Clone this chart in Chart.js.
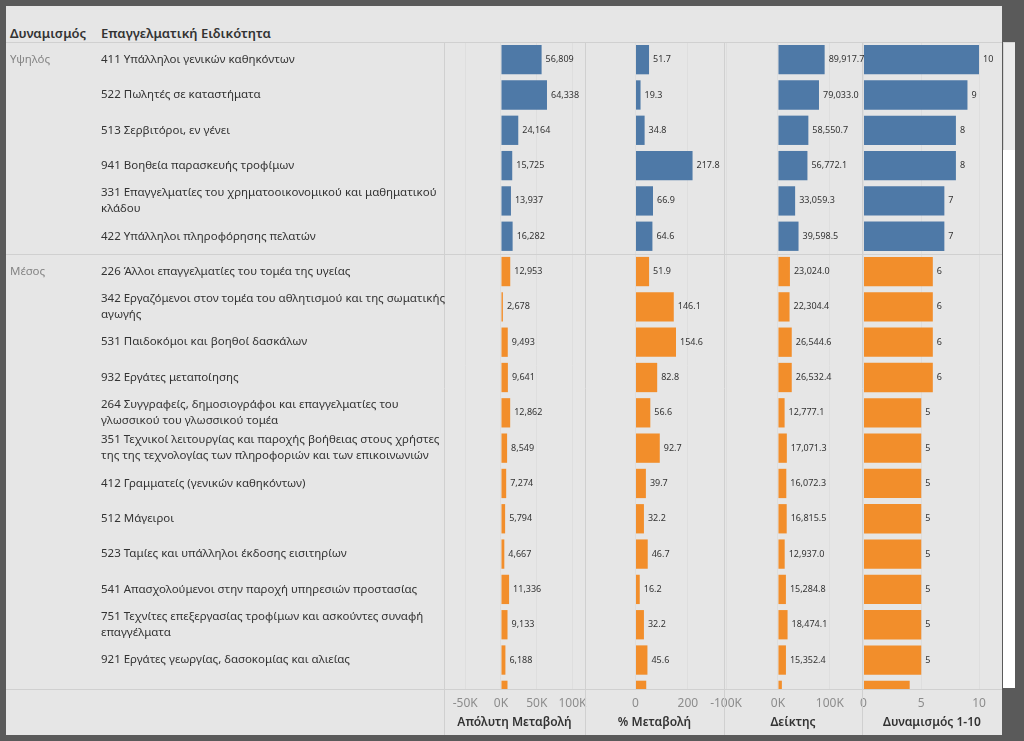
<!DOCTYPE html>
<html lang="el">
<head>
<meta charset="utf-8">
<title>Δυναμισμός επαγγελματικών ειδικοτήτων</title>
<script src="https://cdn.jsdelivr.net/npm/chart.js@4.4.1/dist/chart.umd.min.js"></script>
<style>
    html, body { margin: 0; padding: 0; }
    body { width: 1024px; height: 741px; background: #5a5a5a; position: relative; overflow: hidden; font-family: "Noto Sans", sans-serif; }
    .panel { position: absolute; left: 6px; top: 6px; width: 996px; height: 729px; background: #e6e6e6; }
    .head { position: absolute; top: 18px; line-height: 18px; font-size: 13px; font-weight: 600; color: #333; white-space: nowrap; }
    .scroll_thumb { position: absolute; left: 1003px; top: 42px; width: 11px; height: 107px; background: #ebebeb; border: 1px solid #d4d4d4; border-right: 0; }
    .scroll_track { position: absolute; left: 1003px; top: 150px; width: 12px; height: 538px; background: #fff; }
    #dyn_chart { position: absolute; left: 0; top: 0; }
</style>
</head>
<body>
<div class="panel">
    <div class="head" style="left:4px;">Δυναμισμός</div>
    <div class="head" style="left:95px;">Επαγγελματική Ειδικότητα</div>
    <canvas id="dyn_chart" width="996" height="729"></canvas>
</div>
<div class="scroll_thumb"></div>
<div class="scroll_track"></div>

<script>
// rows (last one is cut off by the view)
var occupations = [
    ["411 Υπάλληλοι γενικών καθηκόντων"],
    ["522 Πωλητές σε καταστήματα"],
    ["513 Σερβιτόροι, εν γένει"],
    ["941 Βοηθεία παρασκευής τροφίμων"],
    ["331 Επαγγελματίες του χρηματοοικονομικού και μαθηματικού", "κλάδου"],
    ["422 Υπάλληλοι πληροφόρησης πελατών"],
    ["226 Άλλοι επαγγελματίες του τομέα της υγείας"],
    ["342 Εργαζόμενοι στον τομέα του αθλητισμού και της σωματικής", "αγωγής"],
    ["531 Παιδοκόμοι και βοηθοί δασκάλων"],
    ["932 Εργάτες μεταποίησης"],
    ["264 Συγγραφείς, δημοσιογράφοι και επαγγελματίες του", "γλωσσικού του γλωσσικού τομέα"],
    ["351 Τεχνικοί λειτουργίας και παροχής βοήθειας στους χρήστες", "της της τεχνολογίας των πληροφοριών και των επικοινωνιών"],
    ["412 Γραμματείς (γενικών καθηκόντων)"],
    ["512 Μάγειροι"],
    ["523 Ταμίες και υπάλληλοι έκδοσης εισιτηρίων"],
    ["541 Απασχολούμενοι στην παροχή υπηρεσιών προστασίας"],
    ["751 Τεχνίτες επεξεργασίας τροφίμων και ασκούντες συναφή", "επαγγέλματα"],
    ["921 Εργάτες γεωργίας, δασοκομίας και αλιείας"],
    ["213 Επαγγελματίες των επιστημών της ζωής"]
];
var groupOfRow = ["Υψηλός", "Υψηλός", "Υψηλός", "Υψηλός", "Υψηλός", "Υψηλός",
    "Μέσος", "Μέσος", "Μέσος", "Μέσος", "Μέσος", "Μέσος", "Μέσος",
    "Μέσος", "Μέσος", "Μέσος", "Μέσος", "Μέσος", "Μέσος"];

var absChange = [56809, 64338, 24164, 15725, 13937, 16282, 12953, 2678, 9493, 9641, 12862, 8549, 7274, 5794, 4667, 11336, 9133, 6188, 9100];
var pctChange = [51.7, 19.3, 34.8, 217.8, 66.9, 64.6, 51.9, 146.1, 154.6, 82.8, 56.6, 92.7, 39.7, 32.2, 46.7, 16.2, 32.2, 45.6, 41];
var indexValue = [89917.7, 79033.0, 58550.7, 56772.1, 33059.3, 39598.5, 23024.0, 22304.4, 26544.6, 26532.4, 12777.1, 17071.3, 16072.3, 16815.5, 12937.0, 15284.8, 18474.1, 15352.4, 7500];
var dynamism = [10, 9, 8, 8, 7, 7, 6, 6, 6, 6, 5, 5, 5, 5, 5, 5, 5, 5, 4];

// axis ticks of the four panes
var absTicks = [-50000, 0, 50000, 100000];
var pctTicks = [0, 200];
var indexTicks = [-100000, 0, 100000];
var dynTicks = [0, 5, 10];

var groupColors = { "Υψηλός": "#4e79a7", "Μέσος": "#f28e2b" };
var FONT = '"Noto Sans", sans-serif';

function kFormat(v) { return (v / 1000) + "K"; }
var valueFormats = [
    function(v) { return Math.round(v).toLocaleString("en-US"); },
    function(v) { return v.toFixed(1); },
    function(v) { return v.toLocaleString("en-US", { minimumFractionDigits: 1, maximumFractionDigits: 1 }); },
    function(v) { return String(v); }
];

function rows(values) {
    return values.map(function(v, i) { return { x: v, y: i }; });
}

function paneDataset(values, axisId) {
    return {
        data: rows(values),
        xAxisID: axisId,
        yAxisID: "y",
        grouped: false,
        categoryPercentage: 1,
        barPercentage: 0.83,
        backgroundColor: groupOfRow.map(function(g) { return groupColors[g]; }),
        borderWidth: 0
    };
}

function paneAxis(title, min, max, ticks, weight, fmt) {
    return {
        type: "linear",
        position: "bottom",
        stack: "panes",
        stackWeight: weight,
        min: min,
        max: max,
        afterBuildTicks: function(scale) {
            scale.ticks = ticks.map(function(v) { return { value: v }; });
        },
        afterFit: function(scale) {
            scale.height = 46;
            scale.paddingLeft = 0;
            scale.paddingRight = 0;
        },
        grid: { color: "#dedede", drawTicks: false },
        border: { display: false },
        ticks: { color: "#8c8c8c", padding: 7, maxRotation: 0, autoSkip: false, font: { family: FONT, size: 12 }, callback: fmt },
        title: { display: true, text: title, color: "#333", padding: { top: 4, bottom: 5 }, font: { family: FONT, size: 12, weight: "600" } }
    };
}

// row / pane separator lines
var tableLines = {
    id: "tableLines",
    beforeDatasetsDraw: function(chart) {
        var ctx = chart.ctx, area = chart.chartArea, y = chart.scales.y;
        var lines = [area.top, area.bottom];
        for (var i = 1; i < groupOfRow.length; i++) {
            if (groupOfRow[i] !== groupOfRow[i - 1]) lines.push(y.getPixelForValue(i - 0.5));
        }
        ctx.save();
        ctx.strokeStyle = "#d0d0d0";
        ctx.lineWidth = 1;
        ctx.beginPath();
        lines.forEach(function(py) {
            if (py > area.bottom + 1) return;
            var ly = Math.round(py) + 0.5;
            ctx.moveTo(0, ly);
            ctx.lineTo(chart.width, ly);
        });
        ["x1", "x2", "x3", "x4"].forEach(function(id) {
            var lx = Math.round(chart.scales[id].left) + 0.5;
            ctx.moveTo(lx, area.top);
            ctx.lineTo(lx, chart.height);
        });
        ctx.stroke();
        ctx.restore();
    }
};

// occupation + group text and bar values
var rowText = {
    id: "rowText",
    afterDatasetsDraw: function(chart) {
        var ctx = chart.ctx, area = chart.chartArea, y = chart.scales.y;
        ctx.save();
        ctx.beginPath();
        ctx.rect(0, area.top, chart.width, area.bottom - area.top);
        ctx.clip();
        ctx.textBaseline = "middle";
        ctx.textAlign = "left";

        ctx.font = "11.5px " + FONT;
        for (var i = 0; i < occupations.length; i++) {
            var cy = y.getPixelForValue(i);
            var lines = occupations[i];
            ctx.fillStyle = "#333";
            for (var k = 0; k < lines.length; k++) {
                ctx.fillText(lines[k], 95, cy + (k - (lines.length - 1) / 2) * 16);
            }
            if (i === 0 || groupOfRow[i] !== groupOfRow[i - 1]) {
                ctx.fillStyle = "#858585";
                ctx.fillText(groupOfRow[i], 4, cy);
            }
        }

        ctx.font = "9px " + FONT;
        ctx.fillStyle = "#333";
        chart.data.datasets.forEach(function(ds, di) {
            var meta = chart.getDatasetMeta(di);
            meta.data.forEach(function(bar, j) {
                ctx.fillText(valueFormats[di](ds.data[j].x), bar.x + 4, bar.y);
            });
        });
        ctx.restore();
    }
};

var ctx1 = document.getElementById("dyn_chart");
var dynChart = new Chart(ctx1, {
    type: "bar",
    data: {
        datasets: [
            paneDataset(absChange, "x1"),
            paneDataset(pctChange, "x2"),
            paneDataset(indexValue, "x3"),
            paneDataset(dynamism, "x4")
        ]
    },
    options: {
        indexAxis: "y",
        responsive: false,
        animation: false,
        layout: { padding: { left: 438, top: 36, right: 0, bottom: 0 } },
        plugins: {
            legend: { display: false },
            tooltip: { enabled: false }
        },
        scales: {
            y: {
                type: "linear",
                reverse: true,
                offset: false,
                min: -0.5,
                max: 17.82,
                display: false,
                afterBuildTicks: function(scale) {
                    scale.ticks = occupations.map(function(o, i) { return { value: i }; });
                }
            },
            x1: paneAxis("Απόλυτη Μεταβολή", -79700, 117500, absTicks, 141, kFormat),
            x2: paneAxis("% Μεταβολή", -192.7, 337.8, pctTicks, 139, function(v) { return v; }),
            x3: paneAxis("Δείκτης", -104000, 161900, indexTicks, 138, kFormat),
            x4: paneAxis("Δυναμισμός 1-10", -0.13, 11.99, dynTicks, 140, function(v) { return v; })
        }
    },
    plugins: [tableLines, rowText]
});
</script>
</body>
</html>
